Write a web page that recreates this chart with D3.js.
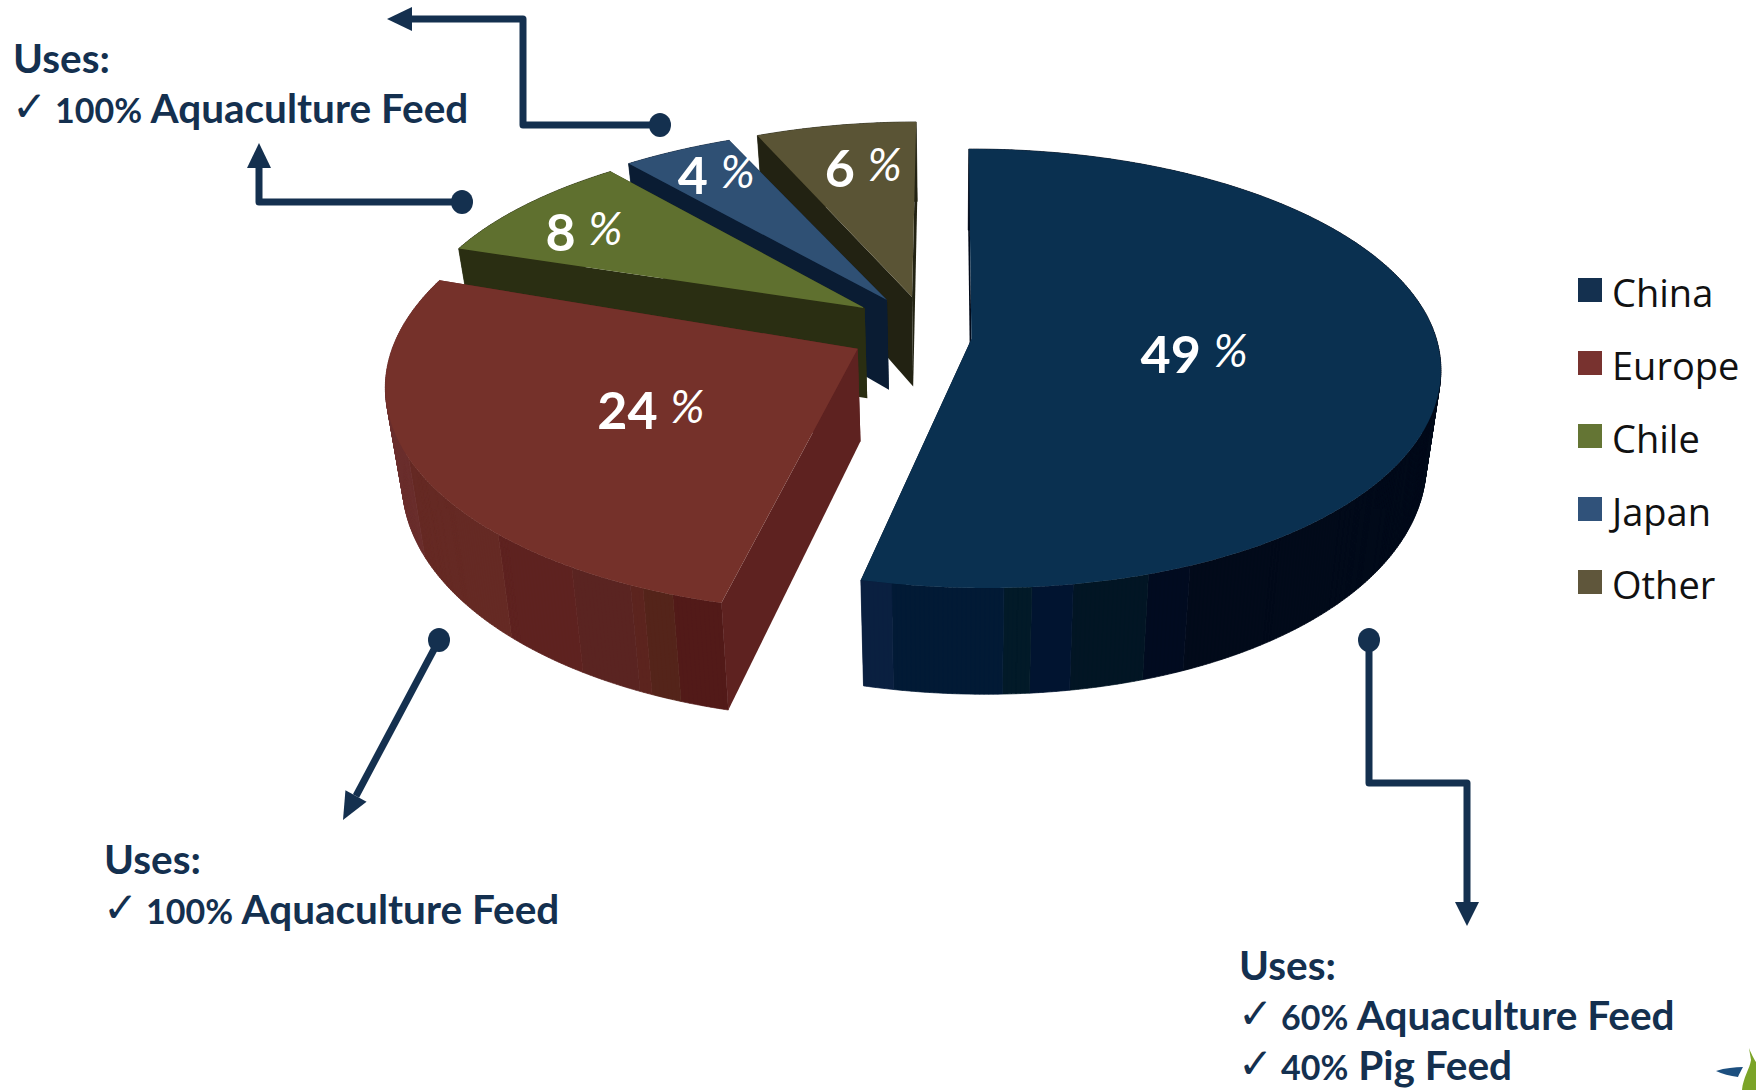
<!DOCTYPE html>
<html>
<head>
<meta charset="utf-8">
<script src="https://cdn.jsdelivr.net/npm/d3@7"></script>
<style>
  html, body { margin: 0; background: #fff; }
  svg { display: block; }
  text { font-family: Lato, "Open Sans", sans-serif; }
  .uses { font-weight: 700; font-size: 40.5px; fill: #14304f; }
  .uses .num { font-size: 34px; }
  .tick { font-family: "DejaVu Sans"; font-size: 42px; fill: #14304f; }
  .pct { font-weight: 700; font-size: 52px; fill: #fff; }
  .pct .sign { font-family: "Liberation Sans Narrow", Lato, sans-serif; font-style: italic; font-weight: 400; font-size: 46px; }
  .legend { font-family: "Open Sans"; font-size: 38px; fill: #111; }
</style>
</head>
<body>
<svg id="chart" width="1756" height="1090"></svg>
<script>
const categories = ['China', 'Europe', 'Chile', 'Japan', 'Other']
const shares = [49, 24, 8, 4, 6]

const legendColors = ['#14304f', '#78322f', '#647534', '#30527a', '#5f563b']
const topColors = ['#0a3050', '#75312a', '#5f702f', '#2f5074', '#5a5435']
const sideColors = ['#020a1a', '#5e2220', '#2a2e12', '#0a1c33', '#222212']

// facet shading of the two big rims, by angle in degrees
const chinaRimAngles = [157, 162, 170.8, 175.3, 178.1, 190.4]
const chinaRimColors = ['#020a1a', '#010b20', '#021524', '#011430', '#021a28', '#021a35', '#0a2040']
const europeRimAngles = [198.8, 202.5, 204.2, 211.3, 222.5, 243]
const europeRimColors = ['#521a18', '#54241a', '#5c241e', '#5a2421', '#5e2220', '#652a24', '#6a2e2c']

const usesNotes = [
    { x: 13, y: 73, lines: ['100% Aquaculture Feed'] },
    { x: 104, y: 874, lines: ['100% Aquaculture Feed'] },
    { x: 1239, y: 980, lines: ['60% Aquaculture Feed', '40% Pig Feed'] }
]

// perspective of the pie plane
const cx = 970, cy = 339
const radiusX = 465, radiusZ = 215.5, persp = 0.1344
const depth = 92, shrink = 0.97, shrinkX = 950

// how far each slice is pulled out, in pie radii (plane x, plane z)
const pull = [[0.003, 0], [-0.24, 0.045], [-0.231, -0.147], [-0.183, -0.185], [-0.128, -0.2]]
const xStretch = [1, 0.995, 0.985, 1, 0.97]
const zStretch = [1, 1.035, 0.94, 0.95, 0.965]
const frontLean = [14, 6, 0, 0, 0]
const labelRadius = [0.5, 0.5, 0.8, 0.8, 0.7]
const labelShift = [[-10, 6], [8, 10], [-2, 15], [-1, 6], [8, 2]]

const svg = d3.select('#chart')

const project = (x, z, i) => {
    let d = 1 - persp * z
    let y = radiusZ * z / d
    let lean = y > 0 ? frontLean[i] * (y / 240) * (y / 240) : 0
    return [cx + radiusX * x / d + lean, cy + y]
}
const lower = (x, z, i) => {
    let p = project(x, z, i)
    return [shrinkX + (p[0] - shrinkX) * shrink, p[1] + depth / (1 - persp * z)]
}

const pie = d3.pie().sort(null).startAngle(-0.006).endAngle(2 * Math.PI - 0.006)
const slices = pie(shares).map((s, i) => ({ ...s, i }))

const apexOf = (s) => [...pull[s.i], s.i]
const outer = (s, a) => [
    pull[s.i][0] + xStretch[s.i] * Math.sin(a),
    pull[s.i][1] - zStretch[s.i] * Math.cos(a),
    s.i
]
const line = d3.line()

const rimColor = (s) => {
    if (s.i === 0) return d3.scaleThreshold().domain(chinaRimAngles).range(chinaRimColors)
    if (s.i === 1) return d3.scaleThreshold().domain(europeRimAngles).range(europeRimColors)
    return () => sideColors[s.i]
}

const drawFace = (g, s, a) => {
    let p = outer(s, a), apex = apexOf(s)
    g.append('path')
        .attr('d', line([project(...apex), project(...p), lower(...p), lower(...apex)]) + 'Z')
        .attr('fill', sideColors[s.i])
}

const drawSlice = (g, s) => {
    let step = Math.PI / 360
    let angles = d3.range(s.startAngle, s.endAngle, step).concat([s.endAngle])
    let color = rimColor(s)

    drawFace(g, s, s.endAngle)

    // rim: quads of one shade go in one path, all wound the same way
    let shades = d3.groups(d3.pairs(angles), ([a, b]) => color((a + b) / 2 * 180 / Math.PI))
    shades.forEach(([c, pairs]) => {
        let d = pairs.map(([a, b]) => {
            let p = outer(s, a), q = outer(s, b)
            let quad = [project(...p), project(...q), lower(...q), lower(...p)]
            if (d3.polygonArea(quad) < 0) quad.reverse()
            return line(quad) + 'Z'
        }).join('')
        g.append('path').attr('d', d).attr('fill', c).attr('stroke', c).attr('stroke-width', 0.7)
    })

    drawFace(g, s, s.startAngle)

    // top
    let top = [project(...apexOf(s))].concat(angles.map(a => project(...outer(s, a))))
    g.append('path').attr('d', line(top) + 'Z').attr('fill', topColors[s.i])
}

// back slices first
let pieG = svg.append('g')
;[4, 3, 2, 1, 0].forEach(i => drawSlice(pieG.append('g'), slices[i]))

// percent labels
svg.append('g').selectAll('text')
    .data(slices)
    .enter()
    .append('text')
    .attr('class', 'pct')
    .attr('text-anchor', 'middle')
    .attr('transform', s => {
        let mid = (s.startAngle + s.endAngle) / 2
        let r = labelRadius[s.i]
        let p = project(pull[s.i][0] + r * Math.sin(mid), pull[s.i][1] - r * Math.cos(mid), s.i)
        return 'translate(' + (p[0] + labelShift[s.i][0]) + ',' + (p[1] + 16 + labelShift[s.i][1]) + ')'
    })
    .each(function (s) {
        let t = d3.select(this)
        t.append('tspan').text(s.data + ' ')
        t.append('tspan').attr('class', 'sign').attr('dy', -6).text('%')
    })

// legend
let legend = svg.append('g').selectAll('g')
    .data(categories)
    .enter()
    .append('g')
    .attr('transform', (d, i) => 'translate(1578,' + (278 + i * 73) + ')')
legend.append('rect').attr('width', 24).attr('height', 24).attr('fill', (d, i) => legendColors[i])
legend.append('text').attr('class', 'legend').attr('x', 34).attr('y', 29).text(d => d)

// connectors
const connectors = [
    { pts: [[660, 125], [523, 125], [523, 19], [412, 19]], tip: [387, 19] },
    { pts: [[462, 202], [259, 202], [259, 168]], tip: [259, 143] },
    { pts: [[439, 640], [356, 796]], tip: [343, 820] },
    { pts: [[1369, 640], [1369, 783], [1467, 783], [1467, 902]], tip: [1467, 926] }
]
const navy = '#14304f'
let conn = svg.append('g')
connectors.forEach(c => {
    conn.append('path')
        .attr('d', line(c.pts))
        .attr('fill', 'none').attr('stroke', navy).attr('stroke-width', 7)
        .attr('stroke-linejoin', 'round')
    conn.append('ellipse')
        .attr('cx', c.pts[0][0]).attr('cy', c.pts[0][1]).attr('rx', 11).attr('ry', 12)
        .attr('fill', navy)
    let last = c.pts[c.pts.length - 1]
    let dx = c.tip[0] - last[0], dy = c.tip[1] - last[1]
    let len = Math.hypot(dx, dy)
    let nx = -dy / len * 12, ny = dx / len * 12
    conn.append('path')
        .attr('d', line([c.tip, [last[0] + nx, last[1] + ny], [last[0] - nx, last[1] - ny]]) + 'Z')
        .attr('fill', navy)
})

// uses notes
usesNotes.forEach(n => {
    let g = svg.append('g')
    g.append('text').attr('class', 'uses').attr('x', n.x).attr('y', n.y).text('Uses:')
    n.lines.forEach((l, i) => {
        let y = n.y + (i + 1) * 50
        let cut = l.indexOf(' ')
        g.append('text').attr('class', 'tick').attr('x', n.x - 1).attr('y', y - 2).text('✓')
        let t = g.append('text').attr('class', 'uses').attr('x', n.x + 42).attr('y', y)
        t.append('tspan').attr('class', 'num').text(l.slice(0, cut))
        t.append('tspan').text(l.slice(cut))
    })
})

// logo corner
svg.append('path')
    .attr('d', 'M1749,1048C1752,1056 1756,1062 1756,1062L1756,1090L1742,1090C1743,1078 1750,1068 1751,1060Z')
    .attr('fill', '#7ba428')
svg.append('path')
    .attr('d', 'M1716,1071C1725,1068 1735,1067 1743,1067C1741,1071 1739,1074 1738,1077C1730,1076 1722,1074 1716,1071Z')
    .attr('fill', '#1c4f7f')
</script>
</body>
</html>
